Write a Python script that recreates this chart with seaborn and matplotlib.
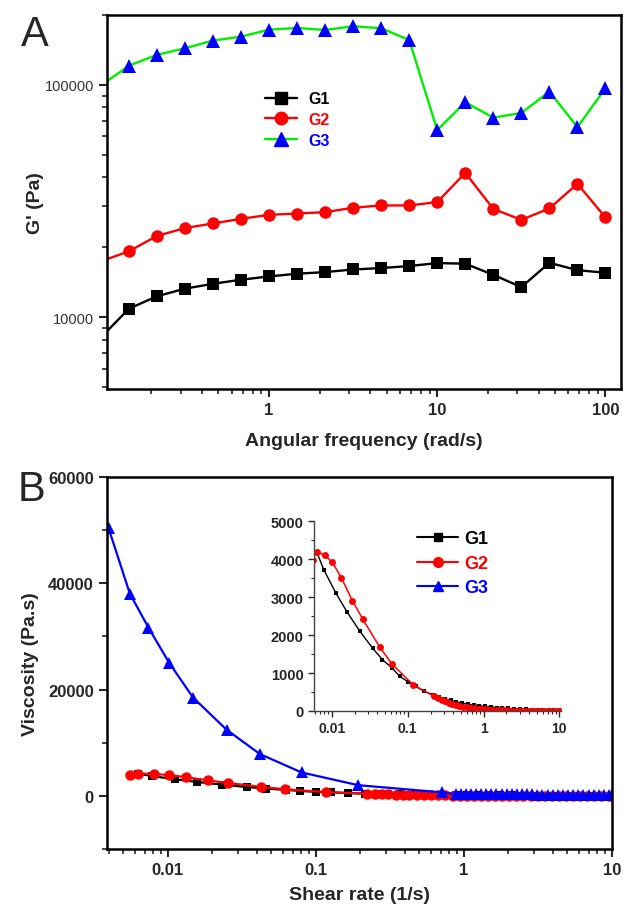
import matplotlib
matplotlib.use("Agg")
import matplotlib.pyplot as plt
import seaborn as sns
import pandas as pd
from matplotlib.lines import Line2D
from matplotlib.ticker import LogLocator, NullFormatter, FixedLocator

# ---------------- Panel A data: G' vs angular frequency ----------------
freq = [0.1, 0.147, 0.215, 0.316, 0.464, 0.681, 1.0, 1.468, 2.154, 3.162,
        4.642, 6.813, 10.0, 14.68, 21.54, 31.62, 46.42, 68.13, 100.0]
g1_mod = [8150, 10860, 12280, 13250, 13910, 14480, 14960, 15370, 15620, 16030,
          16260, 16590, 17080, 16980, 15200, 13460, 17130, 15920, 15520]
g2_mod = [17380, 19190, 22340, 24170, 25300, 26500, 27560, 27930, 28310, 29570,
          30260, 30260, 31270, 41800, 29230, 26240, 29370, 37500, 26850]
g3_mod = [99300, 121000, 134700, 143800, 155300, 161400, 173000, 176000, 172500, 179000,
          175500, 156200, 63900, 84200, 72300, 75700, 93600, 65800, 96800]

# ---------------- Panel B data: viscosity vs shear rate ----------------
g1_rate = [0.0063, 0.00785, 0.0113, 0.0159, 0.0233, 0.0346, 0.0465, 0.063, 0.0784, 0.101,
           0.127, 0.165, 0.216, 0.26, 0.31, 0.37, 0.44, 0.52, 0.62, 0.74,
           0.88, 1.05, 1.25, 1.49, 1.77, 2.1, 2.5, 3.0, 3.6, 4.3,
           5.1, 6.1, 7.2, 8.6, 10.0]
g1_visc = [4190, 3718, 3105, 2605, 2105, 1650, 1350, 1124, 913, 771,
           650, 520, 421, 365, 318, 277, 240, 210, 182, 158,
           138, 120, 104, 90, 78, 67, 58, 50, 43, 37,
           32, 27, 23, 20, 17]

g2_rate = [0.0056, 0.0063, 0.0081, 0.0102, 0.0134, 0.0187, 0.0257, 0.0426, 0.0618, 0.118,
           0.222, 0.25, 0.28, 0.31, 0.35, 0.39, 0.43, 0.48, 0.54, 0.6,
           0.67, 0.75, 0.84, 0.94, 1.05, 1.17, 1.31, 1.46, 1.63, 1.82,
           2.03, 2.27, 2.53, 2.83, 3.16, 3.53, 3.94, 4.4, 4.9, 5.5,
           6.1, 6.8, 7.6, 8.5, 9.5, 10.0]
g2_visc = [3980, 4190, 4100, 3910, 3500, 2900, 2410, 1690, 1240, 690,
           390, 340, 295, 255, 218, 186, 160, 136, 115, 97,
           82, 69, 58, 49, 41, 35, 29, 25, 21, 18,
           15, 13, 11, 9.5, 8, 7, 6, 5.2, 4.5, 4,
           3.5, 3, 2.7, 2.4, 2.1, 2.0]

g3_rate = [0.004, 0.00556, 0.00743, 0.01025, 0.01486, 0.025, 0.042, 0.0803, 0.194, 0.714,
           0.88, 0.953, 1.03, 1.12, 1.21, 1.31, 1.42, 1.53, 1.66, 1.8,
           1.95, 2.11, 2.28, 2.47, 2.68, 2.9, 3.14, 3.4, 3.68, 3.99,
           4.32, 4.67, 5.06, 5.48, 5.93, 6.42, 6.96, 7.53, 8.16, 8.83,
           9.56, 10.0]
g3_visc = [50300, 38050, 31640, 25030, 18490, 12450, 7860, 4400, 2000, 650,
           330, 320, 315, 310, 305, 300, 295, 290, 285, 280,
           275, 270, 265, 260, 255, 250, 245, 240, 235, 230,
           225, 220, 215, 210, 205, 200, 195, 190, 185, 180,
           175, 170]

series_names = ["G1", "G2", "G3"]

sns.set_style("ticks")
plt.rcParams["font.family"] = ["Liberation Sans", "DejaVu Sans"]
plt.rcParams["axes.linewidth"] = 1.8

fig = plt.figure(figsize=(6.24, 9.12), dpi=100)

# ======================= Panel A =======================
axA = fig.add_axes([0.1715, 0.5724, 0.824, 0.410])
dfA = pd.DataFrame({"freq": freq, "G1": g1_mod, "G2": g2_mod, "G3": g3_mod})
sns.lineplot(data=dfA, x="freq", y="G1", ax=axA, color="black", lw=1.7,
             marker="s", markersize=8, markeredgecolor="black", markerfacecolor="black",
             markeredgewidth=0, estimator=None)
sns.lineplot(data=dfA, x="freq", y="G2", ax=axA, color="#ff0000", lw=1.7,
             marker="o", markersize=9, markeredgecolor="#ff0000", markerfacecolor="#ff0000",
             markeredgewidth=0, estimator=None)
sns.lineplot(data=dfA, x="freq", y="G3", ax=axA, color="#00ee00", lw=1.7,
             marker="^", markersize=10, markeredgecolor="#0000ff", markerfacecolor="#0000ff",
             markeredgewidth=0, estimator=None)
axA.set_xscale("log")
axA.set_yscale("log")
axA.set_xlim(0.109, 124)
axA.set_ylim(4900, 2.0e5)
axA.set_xticks([1, 10, 100])
axA.set_xticklabels(["1", "10", "100"], fontsize=12, fontweight="bold")
axA.xaxis.set_minor_locator(LogLocator(base=10, subs=[2, 3, 4, 5, 6, 7, 8, 9], numticks=20))
axA.xaxis.set_minor_formatter(NullFormatter())
axA.set_yticks([1e4, 1e5])
axA.set_yticklabels(["10000", "100000"], fontsize=10.5, color="#333333")
axA.yaxis.set_minor_locator(LogLocator(base=10, subs=[2, 3, 4, 5, 6, 7, 8, 9], numticks=20))
axA.yaxis.set_minor_formatter(NullFormatter())
axA.tick_params(which="major", direction="out", length=6, width=1.5, top=False, right=False)
axA.tick_params(which="minor", direction="out", length=3.5, width=1.2, top=False, right=False)
axA.set_xlabel("Angular frequency (rad/s)", fontsize=14, fontweight="bold")
axA.set_ylabel("G' (Pa)", fontsize=14, fontweight="bold")
axA.xaxis.set_label_coords(0.5, -0.115)
axA.yaxis.set_label_coords(-0.122, 0.5)
for s in axA.spines.values():
    s.set_linewidth(1.8)
    s.set_color("black")

hA = [Line2D([], [], color="black", lw=1.7, marker="s", ms=8, mec="black", mfc="black"),
      Line2D([], [], color="#ff0000", lw=1.7, marker="o", ms=9, mec="#ff0000", mfc="#ff0000"),
      Line2D([], [], color="#00ee00", lw=1.7, marker="^", ms=10, mec="#0000ff", mfc="#0000ff")]
legA = fig.legend(hA, series_names, loc="upper left", bbox_to_anchor=(0.4247, 0.899),
                  frameon=False, handlelength=2.0, handletextpad=0.7,
                  labelspacing=0.36, borderpad=0, borderaxespad=0,
                  prop={"weight": "bold", "size": 11.5})
for t, c in zip(legA.get_texts(), ["black", "#ff0000", "#0000ff"]):
    t.set_color(c)

fig.text(0.055, 0.962, "A", fontsize=30, ha="center", va="center")

# ======================= Panel B =======================
axB = fig.add_axes([0.1715, 0.068, 0.809, 0.408])
sns.lineplot(x=g1_rate, y=g1_visc, ax=axB, color="black", lw=1.6, marker="s",
             markersize=6, markeredgewidth=0, markerfacecolor="black", estimator=None)
sns.lineplot(x=g2_rate, y=g2_visc, ax=axB, color="#ff0000", lw=1.6, marker="o",
             markersize=7.5, markeredgewidth=0, markerfacecolor="#ff0000", estimator=None)
sns.lineplot(x=g3_rate, y=g3_visc, ax=axB, color="#0000ff", lw=1.6, marker="^",
             markersize=8.5, markeredgewidth=0, markerfacecolor="#0000ff", estimator=None)
axB.set_xscale("log")
axB.set_xlim(0.0039, 10)
axB.set_ylim(-10000, 60000)
axB.set_xticks([0.01, 0.1, 1, 10])
axB.set_xticklabels(["0.01", "0.1", "1", "10"], fontsize=12, fontweight="bold")
axB.xaxis.set_minor_locator(LogLocator(base=10, subs=[2, 3, 4, 5, 6, 7, 8, 9], numticks=20))
axB.xaxis.set_minor_formatter(NullFormatter())
axB.set_yticks([0, 20000, 40000, 60000])
axB.set_yticklabels(["0", "20000", "40000", "60000"], fontsize=12, fontweight="bold")
axB.yaxis.set_minor_locator(FixedLocator([-10000, 10000, 30000, 50000]))
axB.tick_params(which="major", direction="out", length=6, width=1.5, top=False, right=False)
axB.tick_params(which="minor", direction="out", length=3.5, width=1.2, top=False, right=False)
axB.set_xlabel("Shear rate (1/s)", fontsize=14, fontweight="bold")
axB.set_ylabel("Viscosity (Pa.s)", fontsize=14, fontweight="bold")
axB.xaxis.set_label_coords(0.5, -0.10)
axB.yaxis.set_label_coords(-0.135, 0.5)
for s in axB.spines.values():
    s.set_linewidth(1.8)
    s.set_color("black")

fig.text(0.05, 0.463, "B", fontsize=30, ha="center", va="center")

# ======================= Inset =======================
axI = fig.add_axes([0.503, 0.2193, 0.396, 0.2083])
sns.lineplot(x=g1_rate, y=g1_visc, ax=axI, color="black", lw=1.0, marker="s",
             markersize=2.8, markeredgewidth=0, markerfacecolor="black", estimator=None)
sns.lineplot(x=g2_rate, y=g2_visc, ax=axI, color="#ff0000", lw=1.1, marker="o",
             markersize=5, markeredgewidth=0, markerfacecolor="#ff0000", estimator=None)
axI.set_xscale("log")
axI.set_xlim(0.0058, 10.5)
axI.set_ylim(0, 5000)
axI.set_xticks([0.01, 0.1, 1, 10])
axI.set_xticklabels(["0.01", "0.1", "1", "10"], fontsize=10, fontweight="bold")
axI.xaxis.set_minor_locator(LogLocator(base=10, subs=[2, 3, 4, 5, 6, 7, 8, 9], numticks=20))
axI.xaxis.set_minor_formatter(NullFormatter())
axI.set_yticks([0, 1000, 2000, 3000, 4000, 5000])
axI.set_yticklabels(["0", "1000", "2000", "3000", "4000", "5000"], fontsize=10.5, fontweight="bold")
axI.yaxis.set_minor_locator(FixedLocator([500, 1500, 2500, 3500, 4500]))
axI.tick_params(which="major", direction="out", length=4, width=1.0)
axI.tick_params(which="minor", direction="out", length=2.5, width=0.8)
axI.set_xlabel("")
axI.set_ylabel("")
axI.spines["top"].set_visible(False)
axI.spines["right"].set_visible(False)
for k in ["left", "bottom"]:
    axI.spines[k].set_linewidth(1.0)
    axI.spines[k].set_color("#444444")
axI.patch.set_alpha(0)

hI = [Line2D([], [], color="black", lw=1.5, marker="s", ms=6, mec="black", mfc="black"),
      Line2D([], [], color="#ff0000", lw=1.5, marker="o", ms=7, mec="#ff0000", mfc="#ff0000"),
      Line2D([], [], color="#0000ff", lw=1.5, marker="^", ms=7, mec="#0000ff", mfc="#0000ff")]
legI = fig.legend(hI, series_names, loc="upper left", bbox_to_anchor=(0.668, 0.4175),
                  frameon=False, handlelength=2.3, handletextpad=0.3,
                  labelspacing=0.42, borderpad=0, borderaxespad=0,
                  prop={"weight": "bold", "size": 13})
for t, c in zip(legI.get_texts(), ["black", "#ff0000", "#0000ff"]):
    t.set_color(c)

fig.savefig("out.png", dpi=100)
